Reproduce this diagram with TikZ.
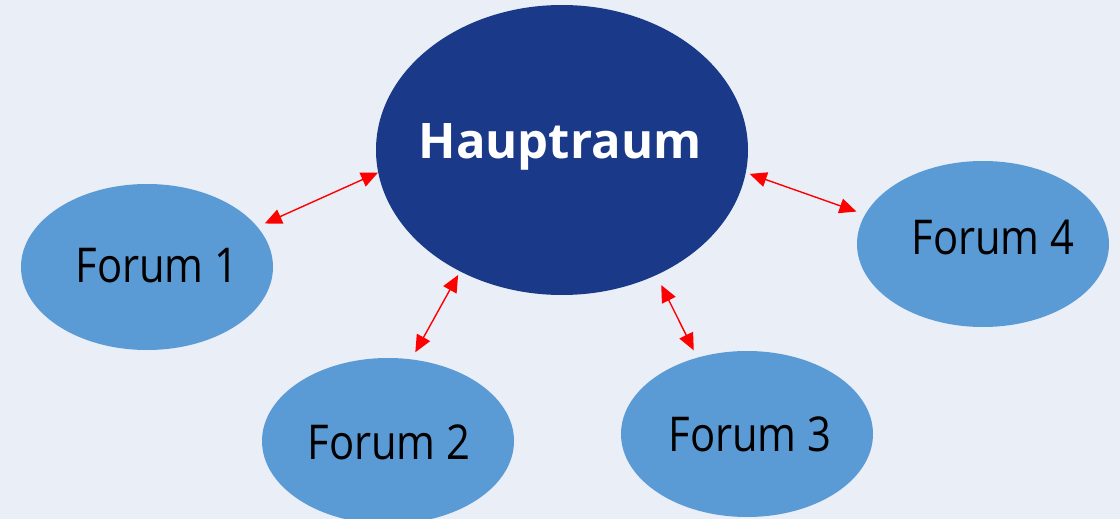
\documentclass[tikz,border=0pt]{standalone}
\usepackage{fontspec}
\setmainfont{Open Sans}
\newfontfamily\forumfont[FakeStretch=0.87]{Open Sans}
\usetikzlibrary{shapes.geometric,arrows.meta}
\definecolor{bg}{HTML}{E9EEF7}
\definecolor{hauptblue}{HTML}{1A3A89}
\definecolor{forumblue}{HTML}{5B9BD5}
\definecolor{arrowred}{HTML}{FF0000}
\tikzset{
  hauptbox/.style={ellipse, fill=hauptblue, inner sep=0pt, minimum width=372pt, minimum height=290pt},
  forumbox/.style={ellipse, fill=forumblue, inner sep=0pt, minimum width=252pt, minimum height=166pt},
  hauptlabel/.style={anchor=base, inner sep=0pt, text=white, font=\fontsize{49}{56}\selectfont\bfseries},
  forumlabel/.style={anchor=base, inner sep=0pt, text=black, font=\forumfont\fontsize{48}{54}\selectfont},
  link/.style={draw=arrowred, line width=1.4pt, {Triangle[length=17pt,width=15pt]}-{Triangle[length=17pt,width=15pt]}}
}
\begin{document}
\begin{tikzpicture}[x=1pt,y=-1pt]
\fill[bg] (0,0) rectangle (1120,519);
\useasboundingbox (0,0) rectangle (1120,519);
\node[hauptbox] (H) at (562,150) {};
\node[forumbox] (F1) at (147,267) {};
\node[forumbox] (F2) at (388,441) {};
\node[forumbox] (F3) at (747,434) {};
\node[forumbox] (F4) at (983,244) {};
\node[hauptlabel] (Ht) at (560,158) {Hauptraum};
\node[forumlabel] (F1t) at (157,282) {Forum 1};
\node[forumlabel] (F2t) at (389,459) {Forum 2};
\node[forumlabel] (F3t) at (750,451) {Forum 3};
\node[forumlabel] (F4t) at (993,254) {Forum 4};
\draw[link, shorten >=8pt] (H.187) -- (F1.20);
\draw[link, shorten <=4pt, shorten >=8pt] (H.230) -- (F2.74);
\draw[link, shorten <=11pt, shorten >=8pt] (H.307) -- (F3.123);
\draw[link, shorten <=4pt, shorten >=9pt] (H.353) -- (F4.166);
\end{tikzpicture}
\end{document}
